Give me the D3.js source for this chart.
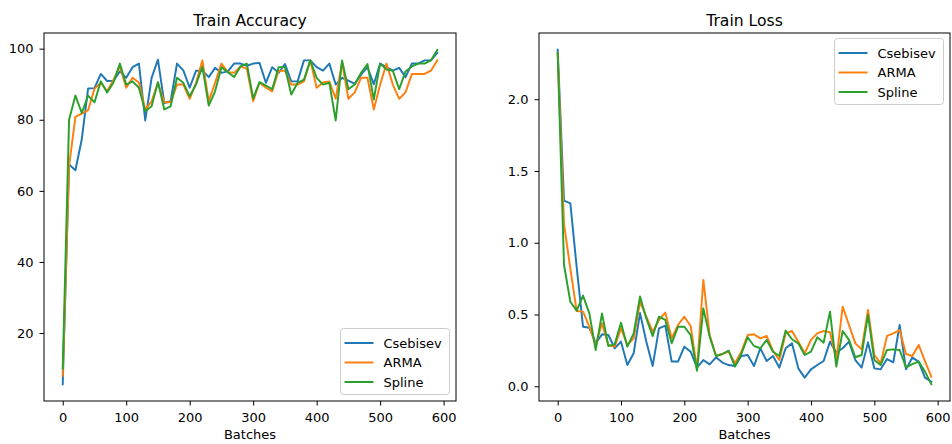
<!DOCTYPE html>
<html>
<head>
<meta charset="utf-8">
<script src="https://cdn.jsdelivr.net/npm/d3@7"></script>
<style>
  body { margin: 0; background: #fff; }
  svg { font-family: "DejaVu Sans", sans-serif; }
</style>
</head>
<body>
<script>
// batches (x values)
var batches = [0,10,20,30,40,50,60,70,80,90,100,110,120,130,140,150,160,170,180,190,
  200,210,220,230,240,250,260,270,280,290,300,310,320,330,340,350,360,370,380,390,
  400,410,420,430,440,450,460,470,480,490,500,510,520,530,540,550,560,570,580,590];

var seriesNames = ["Csebisev", "ARMA", "Spline"];
var colors = ["#1f77b4", "#ff7f0e", "#2ca02c"];

// train accuracy
var accCsebisev = [5.6,67.4,65.8,74.5,88.8,88.9,92.9,90.9,91,93.6,91.8,94.8,95.8,79.8,91.8,96.9,84.7,85.2,95.8,93.9,
  89,93.8,93.8,92,94.6,93.2,93.6,95.8,95.8,95.2,95.8,96,90.4,94.8,93.2,95.7,90.8,90.8,96.7,96.7,
  94.8,93.8,95.8,89.9,91.8,91,90.1,92.7,94.8,90,95.8,94.8,93.8,94.6,92,95.8,95.8,96.7,96.7,98.8];
var accARMA = [8,67,80.8,81.7,82.7,88.7,90.4,88,91.3,95,89,91.8,90.5,82.9,85.2,90.4,84.9,84.9,89.9,89.9,
  85.9,90.4,96.7,85.2,90.4,95.8,93.4,93.2,95,94.3,85.2,90.5,89,88,93.8,93.8,89.9,89.9,90.8,96.7,
  89,90.5,90.8,85.9,96.2,85.9,87.7,91.8,91.8,82.9,89.9,95.8,89.9,85.9,87.7,92.9,92.9,92.9,93.8,96.7];
var accSpline = [10,80,86.8,81.9,86.8,84.9,90.8,87.7,90.5,95.8,89.9,90.8,89,82.4,83.8,90.6,82.9,83.8,91.8,90.4,
  86.6,89.9,94.9,84,88,94.8,93.4,92,95,95.8,86,90.6,89.6,88.6,94.8,94.8,87.1,90.4,91.3,96.7,
  91.8,89.9,90.4,79.8,96.7,88.6,89.9,93.2,95.7,85.7,95.8,94.1,93.8,88.6,93.6,95,95.8,95.8,96.7,99.7];

// train loss
var lossCsebisev = [2.345,1.293,1.275,0.83,0.415,0.408,0.3,0.362,0.357,0.265,0.311,0.148,0.23,0.51,0.31,0.141,0.404,0.422,0.172,0.172,
  0.276,0.241,0.13,0.183,0.153,0.202,0.165,0.148,0.141,0.211,0.218,0.141,0.265,0.176,0.211,0.13,0.265,0.299,0.125,0.06,
  0.118,0.148,0.176,0.311,0.234,0.265,0.311,0.183,0.13,0.306,0.125,0.118,0.19,0.167,0.427,0.118,0.2,0.172,0.06,0.032];
var lossARMA = [2.32,1.13,0.82,0.524,0.52,0.415,0.288,0.439,0.288,0.276,0.404,0.288,0.334,0.589,0.485,0.38,0.462,0.513,0.334,0.427,
  0.485,0.42,0.12,0.741,0.357,0.211,0.225,0.241,0.16,0.241,0.357,0.362,0.334,0.351,0.246,0.183,0.369,0.385,0.311,0.23,
  0.323,0.369,0.385,0.376,0.183,0.555,0.427,0.299,0.257,0.532,0.218,0.16,0.351,0.369,0.392,0.225,0.211,0.288,0.176,0.067];
var lossSpline = [2.32,0.845,0.589,0.527,0.632,0.508,0.253,0.508,0.281,0.292,0.443,0.276,0.369,0.625,0.473,0.35,0.485,0.462,0.299,0.415,
  0.415,0.357,0.108,0.543,0.346,0.211,0.225,0.248,0.137,0.225,0.341,0.281,0.265,0.323,0.241,0.211,0.388,0.328,0.299,0.218,
  0.241,0.341,0.304,0.52,0.137,0.385,0.323,0.202,0.218,0.497,0.183,0.148,0.253,0.257,0.253,0.132,0.155,0.172,0.102,0.014];

// tick labels
var xTicks = [0,100,200,300,400,500,600];
var accTicks = [20,40,60,80,100];
var lossTicks = [0,0.5,1.0,1.5,2.0];

var W = 952, H = 444;
var plotTop = 33, plotBottom = 401;

var svg = d3.select("body").append("svg")
    .attr("width", W)
    .attr("height", H);

// pad a domain by 5% on both sides like matplotlib
function padded(ext) {
    var m = (ext[1] - ext[0]) * 0.05;
    return [ext[0] - m, ext[1] + m];
}

var panels = [
    {title: "Train Accuracy", left: 44, right: 456, series: [accCsebisev, accARMA, accSpline],
     yTicks: accTicks, yFmt: d3.format("d"), legend: "lower right"},
    {title: "Train Loss", left: 539, right: 950, series: [lossCsebisev, lossARMA, lossSpline],
     yTicks: lossTicks, yFmt: d3.format(".1f"), legend: "upper right"}
];

panels.forEach(function(p) {
    var all = [].concat.apply([], p.series);
    var x = d3.scaleLinear()
        .domain(padded(d3.extent(batches)))
        .range([p.left, p.right]);
    var y = d3.scaleLinear()
        .domain(padded(d3.extent(all)))
        .range([plotBottom, plotTop]);

    var g = svg.append("g");

    // lines
    var line = d3.line()
        .x(function(d, i) { return x(batches[i]); })
        .y(function(d) { return y(d); });
    p.series.forEach(function(s, k) {
        g.append("path")
            .datum(s)
            .attr("d", line)
            .attr("fill", "none")
            .attr("stroke", colors[k])
            .attr("stroke-width", 1.95)
            .attr("stroke-linejoin", "round")
            .attr("stroke-linecap", "square");
    });

    // axes
    var xAxis = d3.axisBottom(x).tickValues(xTicks).tickSize(4.5).tickPadding(7);
    var yAxis = d3.axisLeft(y).tickValues(p.yTicks).tickFormat(p.yFmt).tickSize(4.5).tickPadding(6);

    var gx = g.append("g")
        .attr("transform", "translate(0," + plotBottom + ")")
        .call(xAxis);
    var gy = g.append("g")
        .attr("transform", "translate(" + p.left + ",0)")
        .call(yAxis);
    [gx, gy].forEach(function(a) {
        a.select(".domain").remove();
        a.selectAll("text").attr("font-size", 13).attr("font-family", "DejaVu Sans").attr("fill", "#000");
        a.selectAll("line").attr("stroke", "#000").attr("stroke-width", 1);
    });

    // frame
    g.append("rect")
        .attr("x", p.left)
        .attr("y", plotTop)
        .attr("width", p.right - p.left)
        .attr("height", plotBottom - plotTop)
        .attr("fill", "none")
        .attr("stroke", "#000")
        .attr("stroke-width", 1);

    // title and x label
    g.append("text")
        .attr("x", (p.left + p.right) / 2)
        .attr("y", 25.5)
        .attr("text-anchor", "middle")
        .attr("font-size", 15.6)
        .text(p.title);
    g.append("text")
        .attr("x", (p.left + p.right) / 2)
        .attr("y", 439)
        .attr("text-anchor", "middle")
        .attr("font-size", 13)
        .text("Batches");

    // legend
    var lw = 109, lh = 66;
    var lx = p.right - 6.5 - lw;
    var ly = p.legend == "lower right" ? plotBottom - 6.5 - lh : plotTop + 5.5;
    var lg = g.append("g").attr("transform", "translate(" + lx + "," + ly + ")");
    lg.append("rect")
        .attr("width", lw)
        .attr("height", lh)
        .attr("rx", 3)
        .attr("fill", "#fff")
        .attr("fill-opacity", 0.8)
        .attr("stroke", "#cccccc")
        .attr("stroke-width", 1);
    seriesNames.forEach(function(name, k) {
        var yy = 14.5 + k * 19.5;
        lg.append("line")
            .attr("x1", 4).attr("x2", 33)
            .attr("y1", yy).attr("y2", yy)
            .attr("stroke", colors[k])
            .attr("stroke-width", 1.95);
        lg.append("text")
            .attr("x", 43)
            .attr("y", yy)
            .attr("dy", "0.35em")
            .attr("font-size", 13)
            .text(name);
    });
});
</script>
</body>
</html>
